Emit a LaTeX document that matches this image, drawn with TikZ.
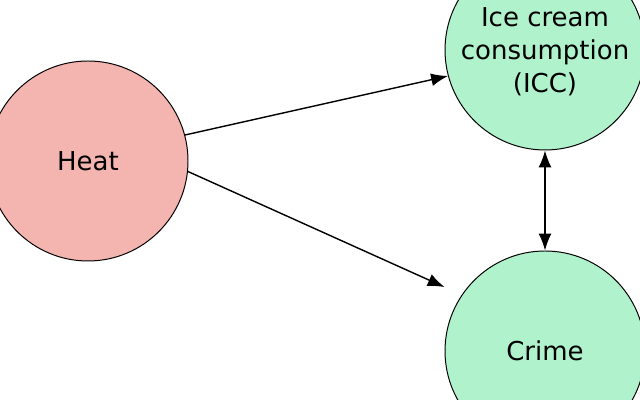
\documentclass[tikz,border=0pt]{standalone}
\usepackage{fontspec}
\setmainfont{DejaVu Sans}
\usetikzlibrary{arrows.meta}
\definecolor{heatred}{HTML}{F4B4B0}
\definecolor{effgreen}{HTML}{B0F2CC}
\begin{document}
\begin{tikzpicture}[
	every node/.style = {shape=circle, draw, line width=0.7pt, align=center,
		minimum size=5cm, inner sep=0pt, font=\fontsize{18.5}{23.6}\selectfont},
	cause/.style = {fill=heatred},
	effect/.style = {fill=effgreen},
	link/.style = {line width=1pt, -{Latex[length=4.2mm,width=3.2mm]}}]
	\useasboundingbox (0,0) rectangle (16,10);
	
	\node[cause] (heat) at (2.2,5.975) {Heat};
	\node[effect, text depth=0pt] (icc) at (13.625,8.75) {Ice cream\\consumption\\(ICC)};
	\node[effect] (crime) at (13.625,1.225) {Crime};
	
	\draw[link] (heat.15.6) -- (icc.195);
	\draw[link, shorten >=0.47cm] (heat.-6.9) -- (crime.146.3);
	\draw[link, {Latex[length=4.2mm,width=3.2mm]}-{Latex[length=4.2mm,width=3.2mm]}] (icc) -- (crime);
\end{tikzpicture}
\end{document}
